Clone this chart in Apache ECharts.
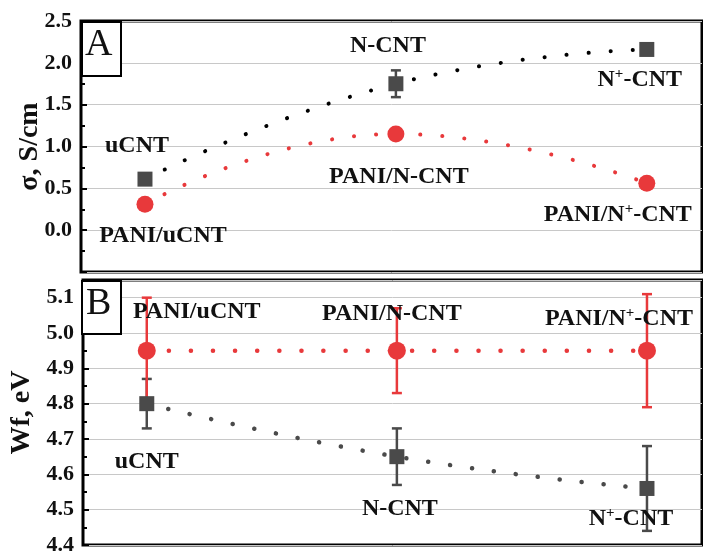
<!DOCTYPE html>
<html>
<head>
<meta charset="utf-8">
<script src="https://cdn.jsdelivr.net/npm/echarts@6/dist/echarts.min.js"></script>
<style>
  html, body { margin: 0; padding: 0; background: #fff; }
  #chart { width: 703px; height: 556px; }
</style>
</head>
<body>
<div id="chart"></div>
<script>
// 样品名称
const categories = ['uCNT', 'N-CNT', 'N+-CNT'];
const paniNames = ['PANI/uCNT', 'PANI/N-CNT', 'PANI/N+-CNT'];
// A: 电导率 σ, S/cm
const sigmaCNT = [0.61, 1.75, 2.16];
const sigmaCNTErr = [0.03, 0.16, 0.0];
const sigmaPANI = [0.31, 1.15, 0.56];
const sigmaPANIErr = [0, 0, 0];
// B: 功函数 Wf, eV
const wfCNT = [4.80, 4.65, 4.56];
const wfCNTErr = [0.07, 0.08, 0.12];
const wfPANI = [4.95, 4.95, 4.95];
const wfPANIErr = [0.15, 0.12, 0.16];
// 刻度
const sigmaTicks = ['0.0', '0.5', '1.0', '1.5', '2.0', '2.5'];
const wfTicks = ['4.4', '4.5', '4.6', '4.7', '4.8', '4.9', '5.0', '5.1'];

const RED = '#e8393b';
const GRAY = '#4a4a4a';
const FONT = '"Liberation Serif", "Times New Roman", serif';

// 标签偏移 (相对数据点)
const offA_cnt = [[-8, -33], [-8, -38], [-7, 30]];
const offA_pani = [[18, 32], [3, 43], [-29, 31]];
const offB_cnt = [[0, 58], [3, 52], [-16, 30]];
const offB_pani = [[50, -39], [-5, -37], [-28, -32]];

function richName(s) {
  // N+ 上标
  return s.replace('N+', 'N{sup|+}');
}
const labelRich = {
  sup: { fontSize: 15, fontWeight: 'bold', fontFamily: FONT, color: '#111', padding: [0, 0, 11, 0] }
};

function points(vals, names, offs) {
  return vals.map((v, i) => ({
    value: [i + 1, v],
    label: {
      show: true,
      formatter: richName(names[i]),
      offset: offs[i]
    }
  }));
}
function errData(vals, errs) {
  return vals.map((v, i) => [i + 1, v - errs[i], v + errs[i], errs[i]]);
}
function errSeries(idx, vals, errs, color, capW) {
  return {
    type: 'custom',
    xAxisIndex: idx,
    yAxisIndex: idx,
    data: errData(vals, errs),
    z: 2,
    renderItem: function (params, api) {
      if (api.value(3) <= 0) return null;
      const lo = api.coord([api.value(0), api.value(1)]);
      const hi = api.coord([api.value(0), api.value(2)]);
      const st = { stroke: color, lineWidth: 2.5 };
      return {
        type: 'group',
        children: [
          { type: 'line', shape: { x1: lo[0], y1: lo[1], x2: hi[0], y2: hi[1] }, style: st },
          { type: 'line', shape: { x1: lo[0] - capW, y1: lo[1], x2: lo[0] + capW, y2: lo[1] }, style: st },
          { type: 'line', shape: { x1: hi[0] - capW, y1: hi[1], x2: hi[0] + capW, y2: hi[1] }, style: st }
        ]
      };
    }
  };
}
function lineSeries(idx, vals, color, width) {
  return {
    type: 'line',
    xAxisIndex: idx,
    yAxisIndex: idx,
    data: vals.map((v, i) => [i + 1, v]),
    smooth: true,
    showSymbol: false,
    silent: true,
    z: 3,
    lineStyle: { color: color, width: width, type: [0.1, 22], cap: 'round' }
  };
}
function markSeries(idx, vals, names, offs, symbol, size, color) {
  return {
    type: 'scatter',
    xAxisIndex: idx,
    yAxisIndex: idx,
    symbol: symbol,
    symbolSize: size,
    itemStyle: { color: color, opacity: 1 },
    z: 4,
    label: {
      position: 'inside',
      color: '#111',
      fontFamily: FONT,
      fontWeight: 'bold',
      fontSize: 24,
      align: 'center',
      verticalAlign: 'middle',
      rich: labelRich
    },
    data: points(vals, names, offs)
  };
}

const xAxisBase = {
  type: 'value',
  min: 0.745,
  max: 3.22,
  axisLine: { show: false },
  axisTick: { show: false },
  axisLabel: { show: false },
  splitLine: { show: false }
};
function yAxisBase(min, max, interval, ticks, name, gap) {
  return {
    type: 'value',
    min: min,
    max: max,
    interval: interval,
    name: name,
    nameLocation: 'middle',
    nameGap: gap,
    nameMoveOverlap: false,
    nameTextStyle: { fontFamily: FONT, fontWeight: 'bold', fontSize: 28, color: '#111' },
    axisLine: { show: false },
    axisTick: { show: true, inside: true, length: 6, lineStyle: { color: '#000', width: 2 } },
    minorTick: { show: true, splitNumber: 2, length: 4, lineStyle: { color: '#000', width: 2 } },
    axisLabel: {
      margin: 9,
      fontFamily: FONT,
      fontWeight: 'bold',
      fontSize: 22,
      color: '#111',
      formatter: function (v) {
        const s = v.toFixed(1);
        return ticks.indexOf(s) >= 0 ? s : '';
      }
    },
    splitLine: { show: true, lineStyle: { color: '#c8c8c8', width: 1 } }
  };
}

const chart = echarts.init(document.getElementById('chart'), null, { renderer: 'canvas' });
chart.setOption({
  backgroundColor: '#fff',
  animation: false,
  grid: [
    { left: 81, right: 1, top: 21, height: 251, show: true, borderColor: '#000', borderWidth: 3 },
    { left: 81, right: 1, top: 280, height: 270, show: true, borderColor: '#000', borderWidth: 3 }
  ],
  xAxis: [
    Object.assign({ gridIndex: 0 }, xAxisBase),
    Object.assign({ gridIndex: 1 }, xAxisBase)
  ],
  yAxis: [
    Object.assign({ gridIndex: 0 }, yAxisBase(-0.5, 2.5, 0.5, sigmaTicks, 'σ, S/cm', 37)),
    Object.assign({ gridIndex: 1 }, yAxisBase(4.4, 5.15, 0.1, wfTicks, 'Wf, eV', 47))
  ],
  graphic: [
    { type: 'rect', left: 81, top: 21, shape: { width: 39, height: 54 }, style: { fill: '#fff', stroke: '#000', lineWidth: 2 }, z: 10 },
    { type: 'text', left: 85, top: 26, style: { text: 'A', font: '38px ' + FONT, fill: '#111' }, z: 11 },
    { type: 'rect', left: 81, top: 280, shape: { width: 39, height: 53 }, style: { fill: '#fff', stroke: '#000', lineWidth: 2 }, z: 10 },
    { type: 'text', left: 86, top: 285, style: { text: 'B', font: '38px ' + FONT, fill: '#111' }, z: 11 }
  ],
  series: [
    errSeries(0, sigmaCNT, sigmaCNTErr, GRAY, 5),
    lineSeries(0, sigmaCNT, '#000', 4),
    markSeries(0, sigmaCNT, categories, offA_cnt, 'rect', 15, GRAY),
    errSeries(0, sigmaPANI, sigmaPANIErr, RED, 5),
    lineSeries(0, sigmaPANI, RED, 4),
    markSeries(0, sigmaPANI, paniNames, offA_pani, 'circle', 17, RED),

    errSeries(1, wfCNT, wfCNTErr, GRAY, 5),
    lineSeries(1, wfCNT, GRAY, 4.5),
    markSeries(1, wfCNT, categories, offB_cnt, 'rect', 15, GRAY),
    errSeries(1, wfPANI, wfPANIErr, RED, 5),
    lineSeries(1, wfPANI, RED, 4.5),
    markSeries(1, wfPANI, paniNames, offB_pani, 'circle', 18, RED)
  ]
});
</script>
</body>
</html>
